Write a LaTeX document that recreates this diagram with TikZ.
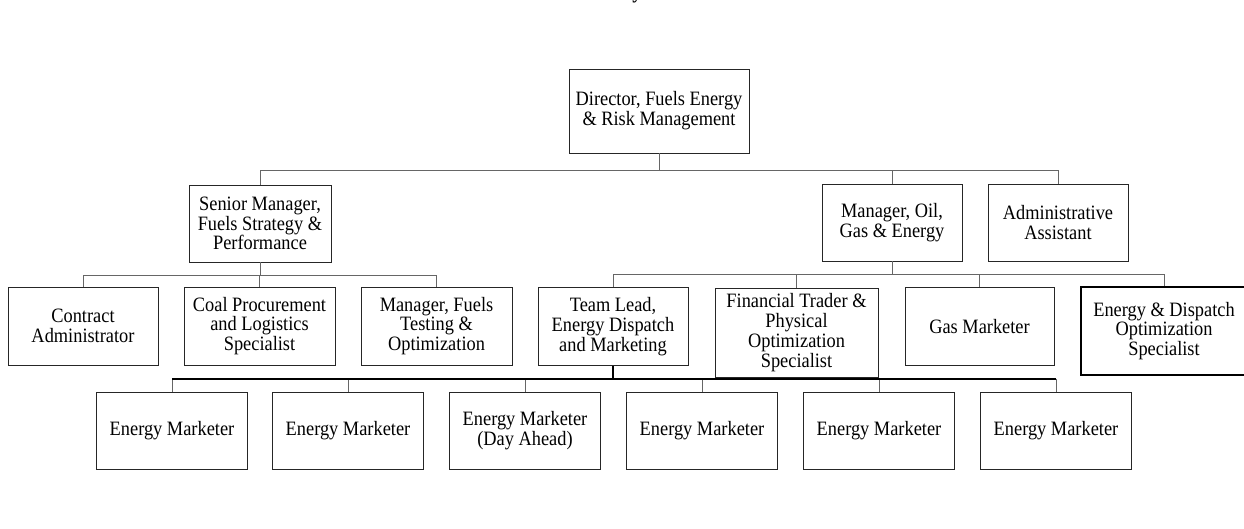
\documentclass[tikz,border=0pt]{standalone}
\usepackage{fontspec}
\setmainfont{Liberation Serif}[FakeStretch=0.9]
\usetikzlibrary{positioning,calc}

\begin{document}
\begin{tikzpicture}[
  x=1pt, y=-1pt,
  role/.style={draw=black!85, line width=0.9pt, inner sep=0pt, align=center,
    minimum width=150pt, minimum height=78pt, font=\fontsize{20.4}{19.8}\selectfont},
  link/.style={draw=black!60, line width=1pt},
  bus/.style={draw=black, line width=1.5pt}
]
\useasboundingbox (0,0) rectangle (1244,529);

% Title (cut off at the top edge)
\node[font=\fontsize{21}{21}\selectfont\bfseries, anchor=base, inner sep=0pt] (title) at (637,-1) {y};

% Director
\node[role, minimum width=180pt, minimum height=84pt] (director) at (659,111) {Director, Fuels Energy\\\& Risk Management};

% Second level
\node[role, minimum width=142pt, minimum height=77pt] (senior) at (260,223.5) {Senior Manager,\\Fuels Strategy \&\\Performance};
\node[role, minimum width=140pt, minimum height=77pt] (mgroil) at (892,222.5) {Manager, Oil,\\Gas \& Energy};
\node[role, minimum width=140pt, minimum height=77pt] (admin) at (1058,222.5) {Administrative\\Assistant};

% Fuels strategy team
\node[role] (contract) at (83,326) {Contract\\Administrator};
\node[role, minimum width=151pt] (coal) at (259.5,326) {Coal Procurement\\and Logistics\\Specialist};
\node[role, minimum width=151pt] (testing) at (436.5,326) {Manager, Fuels\\Testing \&\\Optimization};

% Oil, gas and energy team
\node[role] (teamlead) at (613,326.5) {Team Lead,\\Energy Dispatch\\and Marketing};
\node[role, minimum width=163pt, minimum height=89pt] (fintrader) at (796.5,332.5) {Financial Trader \&\\Physical\\Optimization\\Specialist};
\node[role, minimum width=149pt] (gasmkt) at (979.5,326.5) {Gas Marketer};
\node[role, draw=black, line width=1.8pt, minimum width=166pt, minimum height=88pt] (dispatch) at (1164,331) {Energy \& Dispatch\\Optimization\\Specialist};

% Energy marketers
\foreach \i/\cx in {1/172,2/348,4/702,5/879,6/1056}
  \node[role, minimum width=151pt, minimum height=77pt] (mkt\i) at (\cx,430.5) {Energy Marketer};
\node[role, minimum width=151pt, minimum height=77pt] (mkt3) at (525,430.5) {Energy Marketer\\(Day Ahead)};

% Connections
\draw[link] (director.south) -- ++(0,17) -| (senior.north);
\draw[link] (director.south) -- ++(0,17) -| (mgroil.north);
\draw[link] (director.south) -- ++(0,17) -| (admin.north);
\draw[link] (senior.south) -- ++(0,13) -| (contract.north);
\draw[link] (senior.south) -- ++(0,13) -| (coal.north);
\draw[link] (senior.south) -- ++(0,13) -| (testing.north);
\draw[link] (mgroil.south) -- ++(0,13) -| (teamlead.north);
\draw[link] (mgroil.south) -- ++(0,13) -| (fintrader.north);
\draw[link] (mgroil.south) -- ++(0,13) -| (gasmkt.north);
\draw[link] (mgroil.south) -- ++(0,13) -| (dispatch.north);
\coordinate (tlbus) at ($(teamlead.south)+(0,13)$);
\foreach \i in {1,...,6}
  \draw[link] (mkt\i.north) -- (mkt\i.north |- tlbus);
\draw[bus] (teamlead.south) -- (tlbus);
\draw[bus] (mkt1.north |- tlbus) -- (mkt6.north |- tlbus);
\end{tikzpicture}
\end{document}
